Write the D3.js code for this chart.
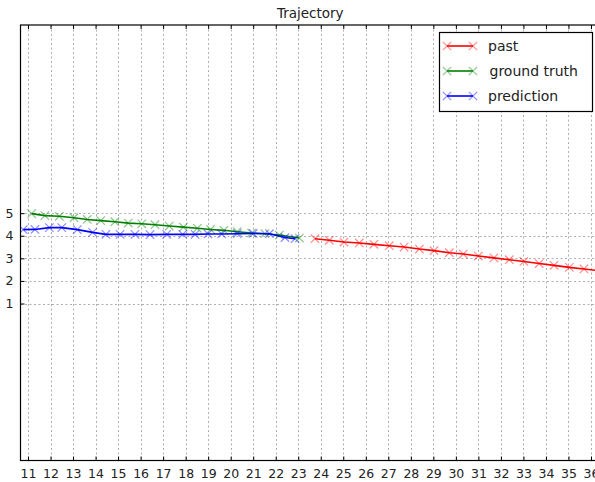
<!DOCTYPE html>
<html>
<head>
<meta charset="utf-8">
<script src="https://cdn.jsdelivr.net/npm/d3@7"></script>
<style>
  body { margin: 0; background: #fff; }
  svg { display: block; font-family: "DejaVu Sans", sans-serif; }
</style>
</head>
<body>
<div id="chart"></div>
<script>
// tick labels
var xTicks = [11, 12, 13, 14, 15, 16, 17, 18, 19, 20, 21, 22, 23, 24, 25, 26, 27, 28, 29, 30, 31, 32, 33, 34, 35, 36];
var yTicks = [1, 2, 3, 4, 5];

// series
var pastX = [23.74, 24.38, 25.03, 25.71, 26.36, 27.04, 27.70, 28.38, 29.03, 29.71, 30.33, 31.00, 31.69, 32.37, 33.02, 33.70, 34.36, 35.04, 35.69, 36.36, 37.00];
var pastY = [3.87, 3.80, 3.72, 3.68, 3.62, 3.56, 3.50, 3.41, 3.34, 3.25, 3.19, 3.10, 3.02, 2.94, 2.86, 2.77, 2.69, 2.60, 2.53, 2.45, 2.38];

var truthX = [11.16, 11.75, 12.39, 13.04, 13.63, 14.23, 14.86, 15.45, 16.05, 16.64, 17.27, 17.90, 18.52, 19.11, 19.70, 20.29, 20.93, 21.52, 22.16, 23.05];
var truthY = [4.98, 4.89, 4.86, 4.80, 4.72, 4.67, 4.62, 4.56, 4.53, 4.49, 4.43, 4.38, 4.33, 4.28, 4.24, 4.18, 4.12, 4.09, 4.03, 3.90];

var predX = [10.79, 11.31, 11.95, 12.50, 13.19, 13.87, 14.46, 15.09, 15.75, 16.42, 17.16, 17.87, 18.42, 18.99, 19.60, 20.29, 21.00, 21.72, 22.41, 22.86];
var predY = [4.27, 4.28, 4.36, 4.36, 4.27, 4.15, 4.06, 4.06, 4.06, 4.05, 4.06, 4.06, 4.06, 4.08, 4.08, 4.09, 4.10, 4.09, 3.92, 3.87];

var seriesNames = ["past", "ground truth", "prediction"];
var seriesColors = ["#ff0000", "#008000", "#0000ff"];

(function() {
  var W = 595, H = 482;
  var pl = 20.5, pr = 600, pt = 25, pb = 460.5;

  var svg = d3.select("#chart").append("svg")
    .attr("width", W)
    .attr("height", H);

  var x = d3.scaleLinear().domain([10.667, 36.4]).range([pl, pr]);
  var y = d3.scaleLinear().domain([-5.95, 13.33]).range([pb, pt]);

  svg.append("clipPath").attr("id", "plot")
    .append("rect")
    .attr("x", pl).attr("y", pt)
    .attr("width", pr - pl).attr("height", pb - pt);

  // grid
  var grid = svg.append("g").attr("stroke", "#9a9a9a").attr("stroke-width", 0.8).attr("stroke-dasharray", "2,2.5");
  grid.selectAll(".vx").data(xTicks).enter().append("line")
    .attr("x1", function(d) { return Math.round(x(d)) + 0.5; })
    .attr("x2", function(d) { return Math.round(x(d)) + 0.5; })
    .attr("y1", pt).attr("y2", pb);
  grid.selectAll(".hy").data(yTicks).enter().append("line")
    .attr("y1", function(d) { return Math.round(y(d)) + 0.5; })
    .attr("y2", function(d) { return Math.round(y(d)) + 0.5; })
    .attr("x1", pl).attr("x2", pr);

  // axes with inward ticks
  var xAxis = svg.append("g")
    .attr("transform", "translate(0," + pb + ")")
    .call(d3.axisBottom(x).tickValues(xTicks).tickSizeInner(-4).tickSizeOuter(0).tickPadding(9).tickFormat(d3.format("d")));
  var xTop = svg.append("g")
    .attr("transform", "translate(0," + pt + ")")
    .call(d3.axisTop(x).tickValues(xTicks).tickSizeInner(-4).tickSizeOuter(0).tickFormat(""));
  var yAxis = svg.append("g")
    .attr("transform", "translate(" + pl + ",0)")
    .call(d3.axisLeft(y).tickValues(yTicks).tickSizeInner(-4).tickSizeOuter(0).tickPadding(7).tickFormat(d3.format("d")));

  [xAxis, xTop, yAxis].forEach(function(a) {
    a.select(".domain").remove();
    a.selectAll("line").attr("stroke", "#000").attr("stroke-width", 1);
    a.selectAll("text").attr("fill", "#222").style("font-size", "12.5px").style("font-family", "DejaVu Sans");
  });

  // series
  var allSeries = [
    { xs: pastX, ys: pastY },
    { xs: truthX, ys: truthY },
    { xs: predX, ys: predY }
  ];

  var line = d3.line()
    .x(function(d) { return x(d[0]); })
    .y(function(d) { return y(d[1]); });

  var plot = svg.append("g").attr("clip-path", "url(#plot)");
  var m = 4.2;

  allSeries.forEach(function(s, i) {
    var pts = s.xs.map(function(v, j) { return [v, s.ys[j]]; });
    plot.append("path")
      .datum(pts)
      .attr("d", line)
      .attr("fill", "none")
      .attr("stroke", seriesColors[i])
      .attr("stroke-width", 1.6);
    plot.selectAll(".mk" + i).data(pts).enter().append("path")
      .attr("d", function(d) {
        var cx = x(d[0]), cy = y(d[1]);
        return "M" + (cx - m) + "," + (cy - m) + "L" + (cx + m) + "," + (cy + m) +
               "M" + (cx - m) + "," + (cy + m) + "L" + (cx + m) + "," + (cy - m);
      })
      .attr("stroke", seriesColors[i])
      .attr("stroke-opacity", 0.45)
      .attr("stroke-width", 1.2);
  });

  // frame
  svg.append("rect")
    .attr("x", pl).attr("y", pt)
    .attr("width", pr - pl).attr("height", pb - pt)
    .attr("fill", "none").attr("stroke", "#000").attr("stroke-width", 1.2);

  // title
  svg.append("text")
    .attr("x", (pl + pr) / 2).attr("y", 18)
    .attr("text-anchor", "middle")
    .style("font-size", "13.5px")
    .attr("fill", "#222")
    .text("Trajectory");

  // legend
  var lg = svg.append("g");
  lg.append("rect")
    .attr("x", 439.5).attr("y", 32.5).attr("width", 153).attr("height", 79)
    .attr("fill", "#fff").attr("stroke", "#000").attr("stroke-width", 1.2);
  seriesNames.forEach(function(name, i) {
    var ry = 46 + i * 25;
    lg.append("line")
      .attr("x1", 447).attr("x2", 473).attr("y1", ry).attr("y2", ry)
      .attr("stroke", seriesColors[i]).attr("stroke-width", 1.6);
    [447, 473].forEach(function(cx) {
      lg.append("path")
        .attr("d", "M" + (cx - m) + "," + (ry - m) + "L" + (cx + m) + "," + (ry + m) +
                   "M" + (cx - m) + "," + (ry + m) + "L" + (cx + m) + "," + (ry - m))
        .attr("stroke", seriesColors[i]).attr("stroke-opacity", 0.45).attr("stroke-width", 1.2);
    });
    lg.append("text")
      .attr("x", i === 1 ? 489.5 : 488).attr("y", ry + 5)
      .style("font-size", "14px")
      .attr("fill", "#222")
      .text(name);
  });
})();
</script>
</body>
</html>
